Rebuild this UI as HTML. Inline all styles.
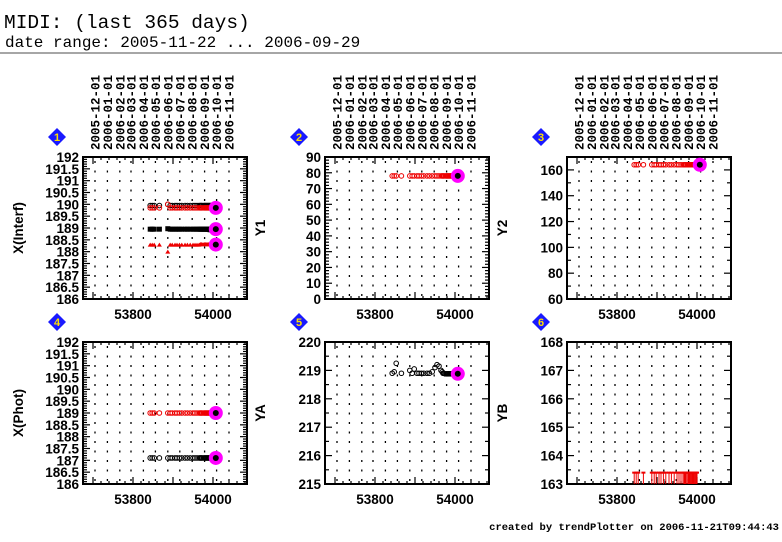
<!DOCTYPE html>
<html><head><meta charset="utf-8"><style>
body{margin:0;background:#fff;width:782px;height:542px;overflow:hidden}
svg{display:block}
.t{font-family:"Liberation Sans",sans-serif;font-weight:bold;font-size:13.5px}
.m{font-family:"Liberation Mono",monospace;font-weight:bold;font-size:12.5px}
</style></head><body>
<svg id="chart" width="782" height="542" xmlns="http://www.w3.org/2000/svg">
<text x="4" y="28" font-family="Liberation Mono,monospace" font-size="19.5">MIDI: (last 365 days)</text>
<text x="5" y="47" font-family="Liberation Mono,monospace" font-size="16">date range: 2005-11-22 ... 2006-09-29</text>
<line x1="0" y1="53" x2="782" y2="53" stroke="#888" stroke-width="1.5"/>
<text x="779" y="530" text-anchor="end" font-family="Liberation Mono,monospace" font-weight="bold" font-size="10.5">created by trendPlotter on 2006-11-21T09:44:43</text>
</svg>
<script>
const months=['2005-12-01','2006-01-01','2006-02-01','2006-03-01','2006-04-01','2006-05-01','2006-06-01','2006-07-01','2006-08-01','2006-09-01','2006-10-01','2006-11-01'];
const monthMJD=[53705,53736,53767,53795,53826,53856,53887,53917,53948,53979,54009,54040];
const xTicks=[53800,54000];
const obsDates=[53843,53848,53853,53866,53887,53893,53898,53905,53910,53916,53922,53930,53936,53943,53950,53955,53960,53965,53968,53970,53972,53975,53978,53980,53982,53984,53986,53988,53990,53992,53994,53996,53998,54000];
const lastDate=54007;
const p1RedCirc=[189.85,189.85,189.85,189.85,190.0,189.85,189.85,189.85,189.85,189.85,189.85,189.85,189.85,189.85,189.85,189.85,189.85,189.85,189.85,189.85,189.85,189.85,189.85,189.85,189.85,189.85,189.85,189.85,189.85,189.85,189.85,189.85,189.85,189.85];
const p1BlkCirc=[189.95,189.95,189.95,189.95,190.0,189.95,189.95,189.95,189.95,189.95,189.95,189.95,189.95,189.95,189.95,189.95,189.95,189.95,189.95,189.95,189.95,189.95,189.95,189.95,189.95,189.95,189.95,189.95,189.95,189.95,189.95,189.95,189.95,189.95];
const p1Black=[188.95,188.95,188.95,188.95,188.97,188.95,188.95,188.95,188.95,188.95,188.95,188.95,188.95,188.95,188.95,188.95,188.95,188.95,188.95,188.95,188.95,188.95,188.95,188.95,188.95,188.95,188.95,188.95,188.95,188.93,188.93,188.93,188.93,188.93];
const p1RedTri=[188.3,188.3,188.3,188.3,188.0,188.3,188.3,188.3,188.3,188.3,188.3,188.3,188.3,188.3,188.3,188.3,188.3,188.3,188.32,188.32,188.32,188.32,188.32,188.32,188.32,188.32,188.32,188.32,188.32,188.32,188.32,188.32,188.32,188.32];
const p1Last=[189.85,188.95,188.3];
const p2Red=[78,78,78,78,78,78,78,78,78,78,78,78,78,78,78,78,78,78,78,78,78,78,78,78,78,78,78,78,78,78,78,78,78,78];
const p2Last=[78];
const p3Red=[164,164,164,164,164,164,164,164,164,164,164,164,164,164,164,164,164,164,164,164,164,164,164,164,164,164,164,164,164,164,164,164,164,164];
const p3Last=[164];
const p4Red=[189,189,189,189,189,189,189,189,189,189,189,189,189,189,189,189,189,189,189,189,189,189,189,189,189,189,189,189,189,189,189,189,189,189];
const p4Black=[187.1,187.1,187.1,187.1,187.1,187.1,187.1,187.1,187.1,187.1,187.1,187.1,187.1,187.1,187.1,187.1,187.1,187.1,187.1,187.1,187.1,187.1,187.1,187.1,187.1,187.1,187.1,187.1,187.1,187.1,187.1,187.1,187.1,187.1];
const p4Last=[189,187.1];
const p5Black=[218.9,218.95,219.25,218.9,219.0,218.9,219.05,218.9,218.9,218.9,218.9,218.9,218.9,218.95,219.1,219.2,219.15,219.0,218.95,218.9,218.9,218.88,218.88,218.88,218.88,218.88,218.88,218.88,218.88,218.88,218.88,218.88,218.88,218.88];
const p5Last=[218.88];
const p6Red=[163.4,163.4,163.4,163.4,163.4,163.4,163.4,163.4,163.4,163.4,163.4,163.4,163.4,163.4,163.4,163.4,163.4,163.4,163.4,163.4,163.4,163.4,163.4,163.4,163.4,163.4,163.4,163.4,163.4,163.4,163.4,163.4,163.4,163.4];

const NS='http://www.w3.org/2000/svg';
const svg=document.getElementById('chart');
function mk(tag,attrs,parent){const e=document.createElementNS(NS,tag);for(const k in attrs)e.setAttribute(k,attrs[k]);(parent||svg).appendChild(e);return e;}
const XMIN=53675,XMAX=54085,W=164,H=142;
const panels=[
 {n:1,x:83,y:157,label:'X(Interf)',ymin:186,ymax:192,major:0.5,minor:0.1,ticks:[186,186.5,187,187.5,188,188.5,189,189.5,190,190.5,191,191.5,192],top:true},
 {n:2,x:325,y:157,label:'Y1',ymin:0,ymax:90,major:10,minor:2,ticks:[0,10,20,30,40,50,60,70,80,90],top:true},
 {n:3,x:567,y:157,label:'Y2',ymin:60,ymax:170,major:20,minor:10,ticks:[60,80,100,120,140,160],top:true},
 {n:4,x:83,y:342,label:'X(Phot)',ymin:186,ymax:192,major:0.5,minor:0.1,ticks:[186,186.5,187,187.5,188,188.5,189,189.5,190,190.5,191,191.5,192],top:false},
 {n:5,x:325,y:342,label:'YA',ymin:215,ymax:220,major:1,minor:0.5,ticks:[215,216,217,218,219,220],top:false},
 {n:6,x:567,y:342,label:'YB',ymin:163,ymax:168,major:1,minor:0.5,ticks:[163,164,165,166,167,168],top:false}
];
panels.forEach(p=>{
 const g=mk('g',{});
 
 
 p.sx=v=>p.x+(v-XMIN)/(XMAX-XMIN)*W;
 p.sy=v=>p.y+H-(v-p.ymin)/(p.ymax-p.ymin)*H;
 const bx=p.x-26,by=p.y-20;
 const d=mk('g',{},g);
 
 
 mk('polygon',{points:`${bx},${by-9} ${bx+9},${by} ${bx},${by+9} ${bx-9},${by}`,fill:'#1a1aff'},d);
 const bt=mk('text',{x:bx,y:by+4,'text-anchor':'middle','font-family':'Liberation Sans,sans-serif','font-weight':'bold','font-size':'11',fill:'#ffe000'},d);bt.textContent=p.n;
 if(p.top){monthMJD.forEach((m,i)=>{const x=p.sx(m)+4.5;const t=mk('text',{class:'m',transform:`translate(${x},${p.y-7}) rotate(-90)`},g);
  
  
  t.textContent=months[i];});}
 monthMJD.forEach(m=>{const x=p.sx(m);if(x<p.x||x>p.x+W)return;const l=mk('line',{x1:x,y1:p.y+4,x2:x,y2:p.y+H-2,stroke:'#000','stroke-width':1.3,'stroke-dasharray':'2,7.5'},g);
  
  });
 const nmin=Math.round((p.ymax-p.ymin)/p.minor);
 for(let i=0;i<=nmin;i++){const v=p.ymin+i*p.minor;const y=p.sy(v);const isMaj=Math.abs(v/p.major-Math.round(v/p.major))<1e-6;const L=isMaj?7:4;
  mk('line',{x1:p.x,y1:y,x2:p.x+L,y2:y,stroke:'#000','stroke-width':1.2},g);mk('line',{x1:p.x+W-L,y1:y,x2:p.x+W,y2:y,stroke:'#000','stroke-width':1.2},g);}
 p.ticks.forEach(v=>{const t=mk('text',{class:'t',x:p.x-4,y:p.sy(v)+5,'text-anchor':'end'},g);
  
  
  t.textContent=v;});
 for(let v=53700;v<=54080;v+=20){const x=p.sx(v);const L=v%100===0?7:3;
  mk('line',{x1:x,y1:p.y,x2:x,y2:p.y+L,stroke:'#000','stroke-width':1.2},g);mk('line',{x1:x,y1:p.y+H-L,x2:x,y2:p.y+H,stroke:'#000','stroke-width':1.2},g);}
 xTicks.forEach(v=>{const t=mk('text',{class:'t',x:p.sx(v),y:p.y+H+20,'text-anchor':'middle'},g);
  
  
  t.textContent=v;});
 const yl=mk('text',{class:'t',transform:`translate(${p.x-60},${p.y+H/2}) rotate(-90)`,'text-anchor':'middle'},g);
 
 
 yl.textContent=p.label;
 mk('rect',{x:p.x,y:p.y,width:W,height:H,fill:'none',stroke:'#000','stroke-width':2},g);
 p.g=g;
});
function circles(p,vals,color,name){const g=mk('g',{},p.g);
 
 
 vals.forEach((v,i)=>mk('circle',{cx:p.sx(obsDates[i]),cy:p.sy(v),r:2.3,fill:'none',stroke:color,'stroke-width':1},g));}
function dots(p,vals,color,name,tri){const g=mk('g',{},p.g);
 
 
 vals.forEach((v,i)=>{const x=p.sx(obsDates[i]),y=p.sy(v);
  if(tri)mk('polygon',{points:`${x-2.5},${y+2} ${x+2.5},${y+2} ${x},${y-2}`,fill:color},g);
  else mk('rect',{x:x-2.5,y:y-2.5,width:5,height:5,fill:color},g);});}
function last(p,vals,name){const g=mk('g',{},p.g);
 
 
 vals.forEach(v=>{mk('circle',{cx:p.sx(lastDate),cy:p.sy(v),r:7,fill:'#ff00ff'},g);mk('circle',{cx:p.sx(lastDate),cy:p.sy(v),r:3,fill:'#000'},g);});}
const P=panels;
circles(P[0],p1BlkCirc,'#000','xinterf-black-circles');
circles(P[0],p1RedCirc,'#e00','xinterf-red-circles');
dots(P[0],p1Black,'#000','xinterf-black-points');
dots(P[0],p1RedTri,'#e00','xinterf-red-triangles',true);
last(P[0],p1Last,'xinterf-latest');
circles(P[1],p2Red,'#e00','y1-series');last(P[1],p2Last,'y1-latest');
circles(P[2],p3Red,'#e00','y2-series');last(P[2],p3Last,'y2-latest');
circles(P[3],p4Red,'#e00','xphot-red-series');circles(P[3],p4Black,'#000','xphot-black-series');last(P[3],p4Last,'xphot-latest');
circles(P[4],p5Black,'#000','ya-series');last(P[4],p5Last,'ya-latest');
(function(){const p=P[5];const g=mk('g',{},p.g);
 
 
 p6Red.forEach((v,i)=>{const x=p.sx(obsDates[i]);mk('line',{x1:x,y1:p.sy(p.ymin),x2:x,y2:p.sy(v),stroke:'#e00','stroke-width':1},g);mk('line',{x1:x-2,y1:p.sy(v),x2:x+2,y2:p.sy(v),stroke:'#e00','stroke-width':2},g);});})();
</script>
</body></html>
